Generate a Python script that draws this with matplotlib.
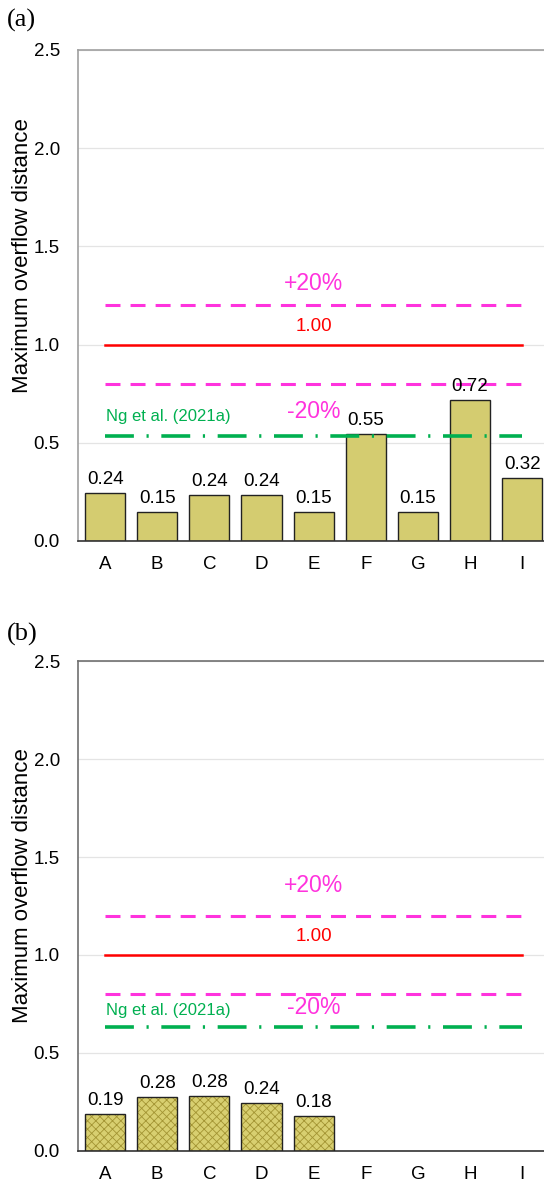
import matplotlib
matplotlib.use("Agg")
import matplotlib.pyplot as plt
import numpy as np

plt.rcParams['font.family'] = ['Liberation Sans', 'DejaVu Sans']
plt.rcParams['hatch.linewidth'] = 0.6

categories = ['A', 'B', 'C', 'D', 'E', 'F', 'G', 'H', 'I']
values_a = [0.245, 0.15, 0.235, 0.235, 0.15, 0.545, 0.15, 0.72, 0.32]
labels_a = ['0.24', '0.15', '0.24', '0.24', '0.15', '0.55', '0.15', '0.72', '0.32']
values_b = [0.19, 0.275, 0.28, 0.245, 0.18]
labels_b = ['0.19', '0.28', '0.28', '0.24', '0.18']
ref_line = 1.0
upper_line = 1.2
lower_line = 0.8
ng_a = 0.535
ng_b = 0.635
yticks = [0.0, 0.5, 1.0, 1.5, 2.0, 2.5]

MAG = '#FF33DD'
GRN = '#00B050'
RED = '#FF0000'
FACE = '#D4CC70'

W, H = 544, 1184
fig = plt.figure(figsize=(W / 100, H / 100), dpi=100)

def panel(rect, vals, labs, ng, hatched, tag, tag_y, ylab_y):
    ax = fig.add_axes(rect)
    x = np.arange(len(categories))
    xv = np.arange(len(vals))
    if hatched:
        ax.bar(xv, vals, width=0.77, color='#D8CF70', edgecolor='#A39433',
               hatch='xxxx', linewidth=0, zorder=2)
        ax.bar(xv, vals, width=0.77, fill=False, edgecolor='#222222',
               linewidth=1.0, zorder=3)
    else:
        ax.bar(xv, vals, width=0.77, color=FACE, edgecolor='#222222',
               linewidth=1.0, zorder=2)
    for xi, v, l in zip(xv, vals, labs):
        ax.text(xi, v + 0.025, l, ha='center', va='bottom', fontsize=13.5, color='black', zorder=4)
    ax.plot([0, 8], [upper_line, upper_line], color=MAG, lw=2.2, dashes=(4.9, 3.3), zorder=3)
    ax.plot([0, 8], [lower_line, lower_line], color=MAG, lw=2.2, dashes=(4.9, 3.3), zorder=3)
    ax.plot([0, 8], [ref_line, ref_line], color=RED, lw=1.8, zorder=3)
    ax.plot([0, 8], [ng, ng], color=GRN, lw=2.6, dashes=(8, 3.5, 0.6, 3.5), zorder=3)
    ax.text(4, 1.31 if not hatched else 1.355, '+20%', color=MAG, fontsize=16.5, ha='center', va='center')
    ax.text(4, 1.09 if not hatched else 1.095, '1.00', color=RED, fontsize=13.5, ha='center', va='center')
    ax.text(4, ng + 0.125 if not hatched else ng + 0.095, '-20%', color=MAG, fontsize=16.5, ha='center', va='center')
    ax.text(0.02, ng + 0.1 if not hatched else ng + 0.08, 'Ng et al. (2021a)', color=GRN, fontsize=12,
            ha='left', va='center')
    ax.set_xlim(-0.52, 8.42)
    ax.set_ylim(0, 2.5)
    ax.set_yticks(yticks)
    ax.set_yticklabels([f'{t:.1f}' for t in yticks], fontsize=13.5)
    ax.set_xticks(x)
    ax.set_xticklabels(categories, fontsize=13.5)
    ax.tick_params(length=0)
    ax.tick_params(axis='x', pad=11)
    ax.tick_params(axis='y', pad=13)
    ax.yaxis.grid(True, color='#E4E4E4', lw=0.9, zorder=0)
    ax.set_axisbelow(True)
    for s in ['left', 'top']:
        ax.spines[s].set_color('#A0A0A0' if not hatched else '#707070')
        ax.spines[s].set_linewidth(1.2)
    ax.spines['right'].set_visible(False)
    ax.spines['bottom'].set_color('#333333')
    ax.spines['bottom'].set_linewidth(1.2)
    fig.text(23 / W, 1 - ylab_y / H, 'Maximum overflow distance', fontsize=16, rotation=90,
             ha='center', va='center')
    fig.text(0.012, tag_y, tag, fontsize=19, family=['Liberation Serif', 'DejaVu Serif'],
             ha='left', va='center')
    return ax

panel([0.1434, 0.5431, 0.8566, 0.4147], values_a, labels_a, ng_a, False, '(a)', 0.983, 256)
panel([0.1434, 0.0279, 0.8566, 0.4138], values_b, labels_b, ng_b, True, '(b)', 0.4645, 886)

fig.savefig('out.png', dpi=100)
